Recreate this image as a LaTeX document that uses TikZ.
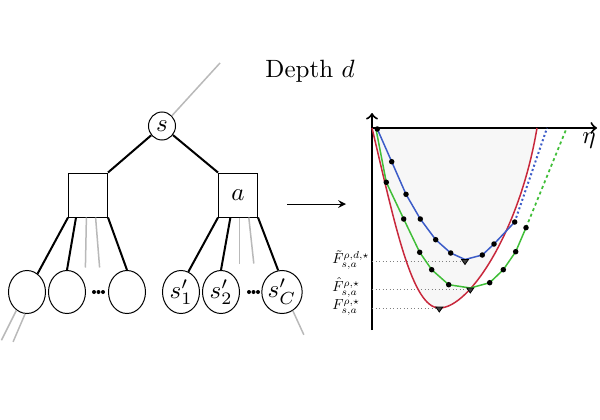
\documentclass[tikz,border=0pt]{standalone}
\usepackage{amsmath, amssymb}
\usepackage{tikz}
\usetikzlibrary{shapes.geometric,calc}
\definecolor{curveblue}{RGB}{60,92,200}
\definecolor{curvegreen}{RGB}{64,190,56}
\definecolor{curvered}{RGB}{200,40,60}

\begin{document}
\begin{tikzpicture}[x=0.4pt,y=-0.4pt,
    state/.style={draw,ellipse,inner sep=0pt,minimum width=14.8pt,minimum height=17.2pt},
    act/.style={draw,rectangle,inner sep=0pt,minimum width=15.6pt,minimum height=17.6pt},
    edge/.style={line width=0.8pt},
    faded/.style={gray!55,line width=0.6pt},
    curve/.style={line width=0.6pt},
    level/.style={anchor=west,inner sep=0pt,scale=0.58}]
          \useasboundingbox (0,0) rectangle (600,420);
          \node[state,minimum width=10.8pt,minimum height=11.2pt] (s) at (162,126) {$s$};
          \node[act] (l) at (88,195) {};
          \node[act] (r) at (238,195) {$a$};
          \node[state] (l1) at (27,292) {};
          \node[state] (l2) at (67,292) {};
          \node[state] (l3) at (127,292) {};
          \node[state] (r1) at (181,292) {$s'_1$};
          \node[state] (r2) at (221,292) {$s'_2$};
          \node[state] (r3) at (282,292) {$s'_C$};
          \node (depth) at (310,71) {Depth $d$};
          \coordinate (sup) at (220,63);
          \draw[faded] (s.north east) -- (sup);
          \draw[edge] (s) -- (l.north east);
          \draw[edge] (s) -- (r.north west);
          \draw[edge] (l.south west) -- (l1.60);
          \draw[edge] ($(l.south west)!0.2!(l.south east)$) -- (l2.north);
          \draw[faded] ($(l.south west)!0.46!(l.south east)$) -- ++(-1,50);
          \draw[faded] ($(l.south west)!0.69!(l.south east)$) -- ++(4,50);
          \draw[edge] (l.south east) -- (l3.north);
          \draw[edge] (r.south west) -- (r1.70);
          \draw[edge] ($(r.south west)!0.31!(r.south east)$) -- (r2.north);
          \draw[faded] ($(r.south west)!0.54!(r.south east)$) -- ++(0,46);
          \draw[faded] ($(r.south west)!0.77!(r.south east)$) -- ++(5,46);
          \draw[edge] (r.south east) -- (r3.100);
          \draw[faded] (l1.240) -- ++(-15,30);
          \draw[faded] (l1.265) -- ++(-12,28);
          \draw[faded] (r3.300) -- ++(11,24);
          \foreach \x in {94,98.5,103,249,253.5,258}
            \fill (\x,292) circle (0.8pt);
          \coordinate (ar1) at (287,204);
          \coordinate (ar2) at (346,204);
          \draw[-stealth] (ar1) -- (ar2);
          \fill[black!3] (372,128) .. controls (395,225) and (412,308) .. (439.3,308)
            .. controls (470,308) and (520,230) .. (537,128) -- cycle;
          \coordinate (o) at (372,128);
          \coordinate (ytip) at (372,113);
          \coordinate (ybot) at (372,330);
          \coordinate (xtip) at (597,128);
          \draw[line width=0.8pt,->] (ybot) -- (ytip);
          \draw[line width=0.8pt,->] (o) -- (xtip);
          \node (eta) at (589,141) {$\eta$};
          \draw[gray,densely dotted] (372,261) -- (465,261);
          \draw[gray,densely dotted] (372,289) -- (470.3,289);
          \draw[gray,densely dotted] (372,308.5) -- (439.3,308.5);
          \node[level] (ftil) at (332,260) {$\tilde F^{\rho,d,\star}_{s,a}$};
          \node[level] (fhat) at (332,287.5) {$\hat F^{\rho,\star}_{s,a}$};
          \node[level] (fstar) at (332,307.5) {$F^{\rho,\star}_{s,a}$};
          \draw[curvered,curve] (o) .. controls (395,225) and (412,308) .. (439.3,308)
            .. controls (470,308) and (520,230) .. (537,128);
          \draw[curveblue,curve] plot coordinates {(377.3,129) (391.7,161.7) (406,194.3) (420.3,219)
            (435.7,239.7) (450.7,253) (465,259.5) (482.3,255) (494,244) (514.7,222)};
          \draw[curveblue,densely dotted,line width=0.8pt] (514.7,222) -- (547,128);
          \draw[curvegreen,curve] plot coordinates {(376,129) (386.3,182.3) (403.7,219) (419.7,252.3)
            (431.7,269.7) (448.7,284.7) (470.3,288) (489.7,282.7) (503.3,269.7) (515.7,251.7) (526,227.7)};
          \draw[curvegreen,dash pattern=on 1.2pt off 1.2pt,line width=0.7pt] (526,227.7) -- (566.7,128);
          \foreach \x/\y in {377.3/129,391.7/161.7,406/194.3,420.3/219,435.7/239.7,450.7/253,
            482.3/255,494/244,514.7/222,386.3/182.3,403.7/219,419.7/252.3,431.7/269.7,
            448.7/284.7,489.7/282.7,503.3/269.7,515.7/251.7,526/227.7}
            \fill (\x,\y) circle (1.1pt);
          \foreach \x/\y in {465/259.5,470.3/288,439.3/307}
            \draw[fill=darkgray,line width=0.3pt] (\x-3.5,\y) -- (\x+3.5,\y) -- (\x,\y+5) -- cycle;
        \end{tikzpicture}
\end{document}
